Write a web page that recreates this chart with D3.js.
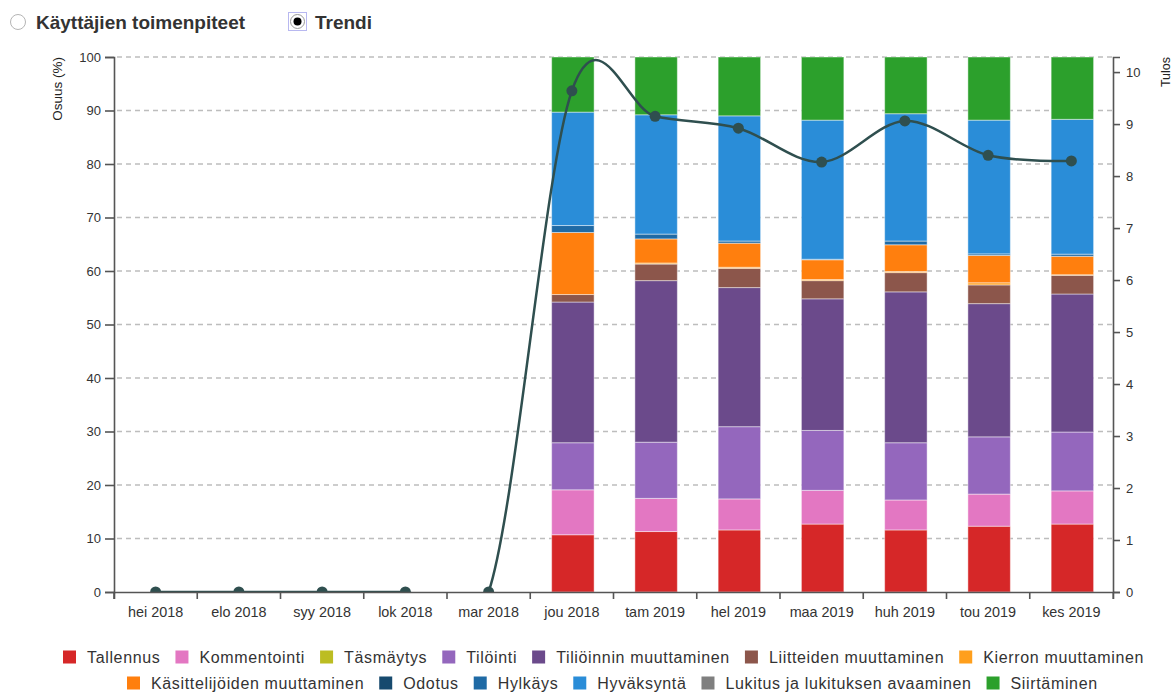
<!DOCTYPE html>
<html><head><meta charset="utf-8">
<script src="https://cdn.jsdelivr.net/npm/d3@7/dist/d3.min.js"></script>
<style>
body{margin:0;background:#fff;}
text{font-family:"Liberation Sans",Arial,sans-serif;}
</style></head>
<body><svg id="c" width="1173" height="692"></svg>
<script>
const months = ["hei 2018","elo 2018","syy 2018","lok 2018","mar 2018","jou 2018","tam 2019","hel 2019","maa 2019","huh 2019","tou 2019","kes 2019"];
const seriesNames = ["Tallennus","Kommentointi","Täsmäytys","Tilöinti","Tiliöinnin muuttaminen","Liitteiden muuttaminen","Kierron muuttaminen","Käsittelijöiden muuttaminen","Odotus","Hylkäys","Hyväksyntä","Lukitus ja lukituksen avaaminen","Siirtäminen"];
const seriesColors = ["#d62728","#e377c2","#bcbd22","#9467bd","#6b4a8b","#8c564b","#ff9f1c","#ff7f0e","#174a6e","#1f6aa5","#2a8dd8","#7f7f7f","#2ca02c"];
const tallennus      = [0,0,0,0,0,10.7,11.3,11.6,12.7,11.6,12.3,12.7];
const kommentointi   = [0,0,0,0,0,8.4,6.2,5.8,6.3,5.6,6.0,6.2];
const tasmaytys      = [0,0,0,0,0,0,0,0,0,0,0,0];
const tiliointi      = [0,0,0,0,0,8.8,10.5,13.5,11.2,10.7,10.7,11.0];
const tilMuutt       = [0,0,0,0,0,26.3,30.2,26.0,24.6,28.2,24.9,25.8];
const liitteet       = [0,0,0,0,0,1.4,3.1,3.6,3.4,3.6,3.5,3.5];
const kierto         = [0,0,0,0,0,0,0.2,0.2,0.2,0.2,0.4,0.1];
const kasittelijat   = [0,0,0,0,0,11.6,4.5,4.5,3.7,5.0,5.1,3.45];
const odotus         = [0,0,0,0,0,0,0,0,0,0,0,0];
const hylkays        = [0,0,0,0,0,1.3,0.9,0.4,0.1,0.7,0.3,0.4];
const hyvaksynta     = [0,0,0,0,0,21.2,22.3,23.4,26.0,23.8,25.0,25.2];
const lukitus        = [0,0,0,0,0,0,0,0,0,0,0,0];
const siirtaminen    = [0,0,0,0,0,10.3,10.8,11.0,11.8,10.6,11.8,11.65];
const trend          = [0,0,0,0,0,9.64,9.15,8.92,8.27,9.06,8.40,8.29];
const leftTicks = [0,10,20,30,40,50,60,70,80,90,100];
const rightTicks = [0,1,2,3,4,5,6,7,8,9,10];

const valueArrays = [tallennus,kommentointi,tasmaytys,tiliointi,tilMuutt,liitteet,kierto,kasittelijat,odotus,hylkays,hyvaksynta,lukitus,siirtaminen];
const rows = months.map((m,i)=>{const r={month:m}; seriesNames.forEach((s,j)=>r[s]=valueArrays[j][i]); return r;});

const svg = d3.select("#c");
const L=114, R=1113, T=57, B=592;
const x = d3.scaleBand().domain(months).range([L,R]).padding(0);
const y = d3.scaleLinear().domain([0,100]).range([B,T]);
const y2 = d3.scaleLinear().domain([0,10.29]).range([B,T]);
const color = d3.scaleOrdinal().domain(seriesNames).range(seriesColors);

// grid
svg.append("g").selectAll("line").data(leftTicks.filter(d=>d>0)).join("line")
  .attr("x1",L+3).attr("x2",R).attr("y1",d=>y(d)).attr("y2",d=>y(d))
  .attr("stroke","#bdbdbd").attr("stroke-width",1.5).attr("stroke-dasharray","5,4");

// bars
const stacked = d3.stack().keys(seriesNames)(rows);
const bw = x.bandwidth()*0.51;
svg.append("g").selectAll("g").data(stacked).join("g").attr("fill",d=>color(d.key))
  .selectAll("rect").data(d=>d.filter(e=>e[1]-e[0]>0)).join("rect")
  .attr("x",d=>x(d.data.month)+x.bandwidth()/2-bw/2+1).attr("width",bw)
  .attr("y",d=>y(d[1])).attr("height",d=>y(d[0])-y(d[1]))
  .attr("stroke","#ffffff").attr("stroke-opacity",0.45).attr("stroke-width",1);

// trend
svg.append("defs").append("clipPath").attr("id","clip").append("rect")
  .attr("x",L).attr("y",0).attr("width",R-L+10).attr("height",B);
const tg = svg.append("g").attr("clip-path","url(#clip)");
const line = d3.line().x((d,i)=>x(months[i])+x.bandwidth()/2).y(d=>y2(d)).curve(d3.curveCardinal);
tg.append("path").datum(trend).attr("d",line).attr("fill","none").attr("stroke","#2f4f4f").attr("stroke-width",2.5);
tg.selectAll("circle").data(trend).join("circle")
  .attr("cx",(d,i)=>x(months[i])+x.bandwidth()/2).attr("cy",d=>y2(d)).attr("r",5.5).attr("fill","#2f4f4f");

// axes
const axL = svg.append("g").attr("transform",`translate(${L},0)`)
  .call(d3.axisLeft(y).tickValues(leftTicks).tickSize(9).tickPadding(4));
const axR = svg.append("g").attr("transform",`translate(${R},0)`)
  .call(d3.axisRight(y2).tickValues(rightTicks).tickSize(7).tickPadding(6));
const axB = svg.append("g").attr("transform",`translate(0,${B})`)
  .call(d3.axisBottom(x).tickSize(7).tickPadding(8));
axB.selectAll(".tick line").attr("x1",-x.bandwidth()/2).attr("x2",-x.bandwidth()/2);
axB.append("line").attr("x1",R).attr("x2",R).attr("y1",0).attr("y2",7).attr("stroke","#555");
[axL,axR,axB].forEach(a=>{
  a.select(".domain").attr("stroke","#555").attr("stroke-width",1.6);
  a.selectAll(".tick line").attr("stroke","#555").attr("stroke-width",1.6);
  a.selectAll("text").attr("fill","#333").style("font-family","'Liberation Sans',Arial,sans-serif");
});
axL.selectAll("text").style("font-size","13px");
axR.selectAll("text").style("font-size","13px");
axB.selectAll("text").style("font-size","14.4px");

// axis titles
svg.append("text").attr("transform","translate(62,57) rotate(-90)").attr("text-anchor","end")
  .style("font-size","13.5px").attr("fill","#222").text("Osuus (%)");
svg.append("text").attr("transform","translate(1170,57) rotate(-90)").attr("text-anchor","end")
  .style("font-size","12.5px").attr("fill","#222").text("Tulos");

// top radio controls
svg.append("circle").attr("cx",18).attr("cy",22).attr("r",7.5).attr("fill","#fff").attr("stroke","#b5b5b5");
svg.append("text").attr("x",36).attr("y",29).style("font-size","19px").style("font-weight","bold").attr("fill","#333").text("Käyttäjien toimenpiteet");
svg.append("rect").attr("x",288.5).attr("y",12.5).attr("width",18).attr("height",18).attr("fill","none").attr("stroke","#b8b8f0");
svg.append("circle").attr("cx",297.5).attr("cy",21.5).attr("r",7).attr("fill","#fff").attr("stroke","#999");
svg.append("circle").attr("cx",297.5).attr("cy",21.5).attr("r",4).attr("fill","#000");
svg.append("text").attr("x",315).attr("y",29).style("font-size","19px").style("font-weight","bold").attr("fill","#333").text("Trendi");

// legend
const legendRows = [{names:seriesNames.slice(0,7), x0:63, y:663},{names:seriesNames.slice(7), x0:127, y:689}];
legendRows.forEach(r=>{
  let cx = r.x0;
  r.names.forEach(n=>{
    svg.append("rect").attr("x",cx).attr("y",r.y-12.5).attr("width",13).attr("height",13).attr("fill",color(n));
    const t = svg.append("text").attr("x",cx+24).attr("y",r.y).style("font-size","16px").style("letter-spacing","0.65px").attr("fill","#333").text(n);
    cx += 24 + t.node().getComputedTextLength() + 15;
  });
});
</script></body></html>
